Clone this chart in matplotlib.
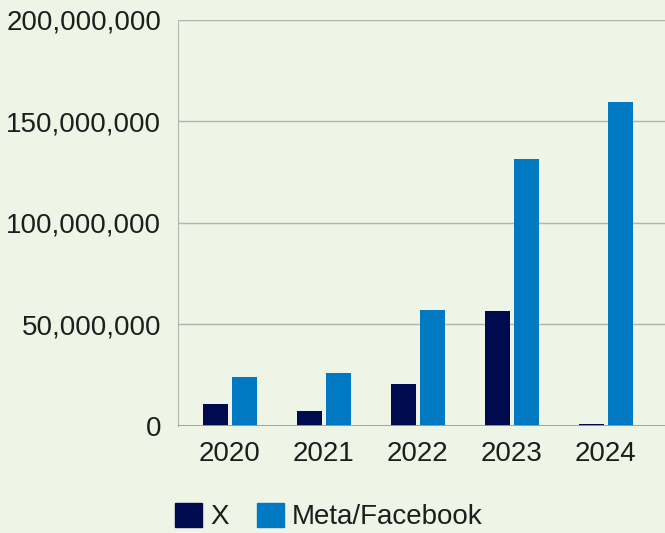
import numpy as np
import matplotlib
matplotlib.use("Agg")
import matplotlib.pyplot as plt
from matplotlib.patches import Patch
from matplotlib.ticker import FuncFormatter

years = ["2020", "2021", "2022", "2023", "2024"]
x_vals = [10.8e6, 7.4e6, 20.7e6, 56.7e6, 1.0e6]
meta_vals = [24.1e6, 26.1e6, 57.1e6, 131.5e6, 159.6e6]

bg = "#eef5e7"
c_x = "#000a4f"
c_meta = "#0079c2"

plt.rcParams["font.family"] = ["Liberation Sans", "DejaVu Sans"]

fig = plt.figure(figsize=(6.65, 5.33), dpi=100, facecolor=bg)
ax = fig.add_axes([0.2677, 0.2008, 0.7323, 0.7617])
ax.set_facecolor(bg)

pos = np.arange(len(years))
w = 0.265
ax.bar(pos - 0.155, x_vals, w, color=c_x, zorder=3)
ax.bar(pos + 0.155, meta_vals, w, color=c_meta, zorder=3)

ax.set_xlim(-0.55, 4.63)
ax.set_ylim(0, 200e6)
ax.set_yticks(np.arange(0, 200e6 + 1, 50e6))
ax.yaxis.set_major_formatter(FuncFormatter(lambda v, p: f"{int(v):,}"))
ax.set_xticks(pos)
ax.set_xticklabels(years)

ax.grid(axis="y", color="#b8b2ac", linewidth=1, zorder=0)
ax.axhline(0, color="#a59d96", linewidth=2, zorder=4)
for s in ["top", "right", "bottom"]:
    ax.spines[s].set_visible(False)
ax.spines["left"].set_color("#b8b2ac")
ax.tick_params(length=0, labelsize=20, colors="#1e1e1e")
ax.tick_params(axis="y", pad=12)
ax.tick_params(axis="x", pad=11)

handles = [Patch(color=c_x, label="X"), Patch(color=c_meta, label="Meta/Facebook")]
fig.legend(handles=handles, loc="center", bbox_to_anchor=(0.495, 0.031), ncol=2,
           frameon=False, fontsize=20, handlelength=0.97, handleheight=0.97,
           handletextpad=0.3, columnspacing=1.0, labelcolor="#1e1e1e",
           borderpad=0, borderaxespad=0)

fig.savefig("out.png", dpi=100, facecolor=bg)
